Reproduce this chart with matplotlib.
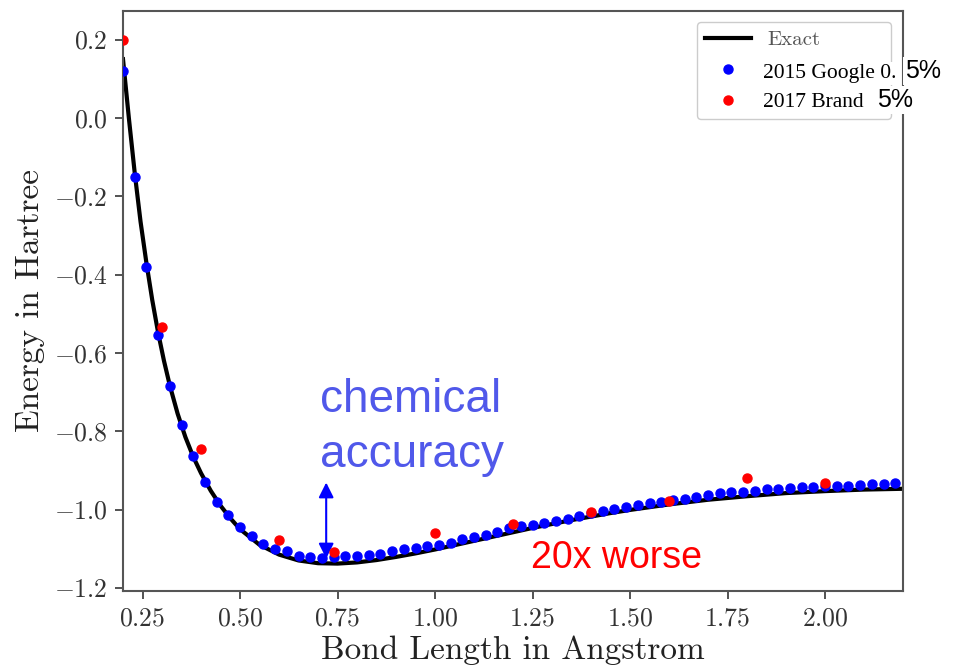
import numpy as np
import matplotlib
matplotlib.use("Agg")
import matplotlib.pyplot as plt

# computer modern look for the axes, ticks and legend
plt.rcParams['font.family'] = 'serif'
plt.rcParams['font.serif'] = ['cmr10']
plt.rcParams['mathtext.fontset'] = 'cm'
plt.rcParams['axes.formatter.use_mathtext'] = True

# exact H2 dissociation curve (bond length in Angstrom, energy in Hartree)
exact_r = [0.200, 0.215, 0.230, 0.245, 0.260, 0.275, 0.290, 0.305, 0.320, 0.340,
           0.360, 0.380, 0.400, 0.425, 0.450, 0.475, 0.500, 0.550, 0.600, 0.650,
           0.700, 0.750, 0.800, 0.850, 0.900, 0.950, 1.000, 1.050, 1.100, 1.150,
           1.200, 1.250, 1.300, 1.350, 1.400, 1.450, 1.500, 1.600, 1.700, 1.800,
           1.900, 2.000, 2.100, 2.200]
exact_e = [0.150, 0.000, -0.140, -0.265, -0.370, -0.465, -0.548, -0.620, -0.683, -0.755,
           -0.815, -0.865, -0.907, -0.952, -0.990, -1.022, -1.050, -1.090, -1.115, -1.130,
           -1.137, -1.138, -1.135, -1.129, -1.121, -1.112, -1.102, -1.091, -1.080, -1.069,
           -1.058, -1.047, -1.037, -1.027, -1.018, -1.009, -1.001, -0.987, -0.975, -0.966,
           -0.958, -0.953, -0.949, -0.947]

# 2015 Google VQE points
google_r = [0.20, 0.23, 0.26, 0.29, 0.32, 0.35, 0.38, 0.41, 0.44, 0.47,
            0.50, 0.53, 0.56, 0.59, 0.62, 0.65, 0.68, 0.71, 0.74, 0.77,
            0.80, 0.83, 0.86, 0.89, 0.92, 0.95, 0.98, 1.01, 1.04, 1.07,
            1.10, 1.13, 1.16, 1.19, 1.22, 1.25, 1.28, 1.31, 1.34, 1.37,
            1.40, 1.43, 1.46, 1.49, 1.52, 1.55, 1.58, 1.61, 1.64, 1.67,
            1.70, 1.73, 1.76, 1.79, 1.82, 1.85, 1.88, 1.91, 1.94, 1.97,
            2.00, 2.03, 2.06, 2.09, 2.12, 2.15, 2.18]
google_e = [0.120, -0.150, -0.380, -0.554, -0.685, -0.784, -0.863, -0.929, -0.982, -1.014,
            -1.044, -1.068, -1.087, -1.102, -1.107, -1.119, -1.122, -1.123, -1.122, -1.119,
            -1.119, -1.116, -1.114, -1.105, -1.102, -1.099, -1.093, -1.090, -1.085, -1.076,
            -1.071, -1.065, -1.057, -1.048, -1.043, -1.039, -1.034, -1.029, -1.023, -1.017,
            -1.008, -1.003, -0.999, -0.993, -0.988, -0.984, -0.980, -0.976, -0.973, -0.967,
            -0.963, -0.959, -0.955, -0.954, -0.952, -0.948, -0.948, -0.946, -0.943, -0.943,
            -0.940, -0.941, -0.941, -0.937, -0.935, -0.935, -0.932]

# 2017 Brand points
brand_r = [0.20, 0.30, 0.40, 0.60, 0.74, 1.00, 1.20, 1.40, 1.60, 1.80, 2.00]
brand_e = [0.200, -0.533, -0.846, -1.078, -1.109, -1.059, -1.037, -1.007, -0.978, -0.920, -0.933]

xticks = [0.25, 0.50, 0.75, 1.00, 1.25, 1.50, 1.75, 2.00]
yticks = [0.2, 0.0, -0.2, -0.4, -0.6, -0.8, -1.0, -1.2]

W, H = 955, 670
fig = plt.figure(figsize=(W / 100, H / 100), dpi=100)
ax = fig.add_axes([123 / W, 1 - 591 / H, 780 / W, 580 / H])

ax.plot(exact_r, exact_e, color='black', lw=3, label='Exact', zorder=2)
ax.plot(google_r, google_e, 'o', color='blue', ms=6.5, label=' ', zorder=3)
ax.plot(brand_r, brand_e, 'o', color='red', ms=6.5, label=' ', zorder=4)

ax.set_xlim(0.2, 2.2)
ax.set_ylim(-1.208, 0.273)
ax.set_xticks(xticks)
ax.set_yticks(yticks)
ax.tick_params(labelsize=18.5, colors='#444444', length=6, width=1.3, pad=5,
               labelcolor='#333333')
for s in ax.spines.values():
    s.set_color('#555555')
    s.set_linewidth(1.5)

ax.set_xlabel('Bond Length in Angstrom', fontsize=24, color='#222222', labelpad=4)
ax.set_ylabel('Energy in Hartree', fontsize=24, color='#222222', labelpad=6)

leg = ax.legend(loc='upper left', mode='expand', borderaxespad=0,
                bbox_to_anchor=(697 / W, 1 - 113 / H, 194 / W, 91 / H),
                bbox_transform=fig.transFigure, fontsize=15, labelcolor='#555555',
                handlelength=2.2, handletextpad=0.8, borderpad=0.4, labelspacing=0.6,
                fancybox=True, framealpha=1, edgecolor='#cccccc')
leg.get_frame().set_linewidth(1.0)

# relabelled legend entries pasted on top
wbox = dict(facecolor='white', edgecolor='none', pad=1.5)
fig.text(763 / W, 1 - 78 / H, '2015 Google 0.', fontsize=15.5, family='Liberation Serif',
         color='black', va='baseline', bbox=wbox, zorder=10)
fig.text(905 / W, 1 - 78 / H, '5%', fontsize=18, family='Liberation Sans',
         color='black', va='baseline', bbox=wbox, zorder=10)
fig.text(763 / W, 1 - 107 / H, '2017 Brand', fontsize=15.5, family='Liberation Serif',
         color='black', va='baseline', bbox=wbox, zorder=10)
fig.text(877 / W, 1 - 107 / H, '5%', fontsize=18, family='Liberation Sans',
         color='black', va='baseline', bbox=wbox, zorder=10)

# annotations
ax.text(0.7056, -0.751, 'chemical', fontsize=33, family='Liberation Sans',
        color='#5058ea', va='baseline')
ax.text(0.7056, -0.891, 'accuracy', fontsize=33, family='Liberation Sans',
        color='#5058ea', va='baseline')
ax.annotate('', xy=(0.721, -1.125), xytext=(0.721, -0.931),
            arrowprops=dict(arrowstyle='<|-|>,head_length=0.6,head_width=0.3',
                            color='blue', lw=1.5, mutation_scale=15,
                            shrinkA=0, shrinkB=0))
ax.text(1.2467, -1.150, '20x worse', fontsize=27, family='Liberation Sans',
        color='red', va='baseline')

fig.savefig('out.png', dpi=100)
